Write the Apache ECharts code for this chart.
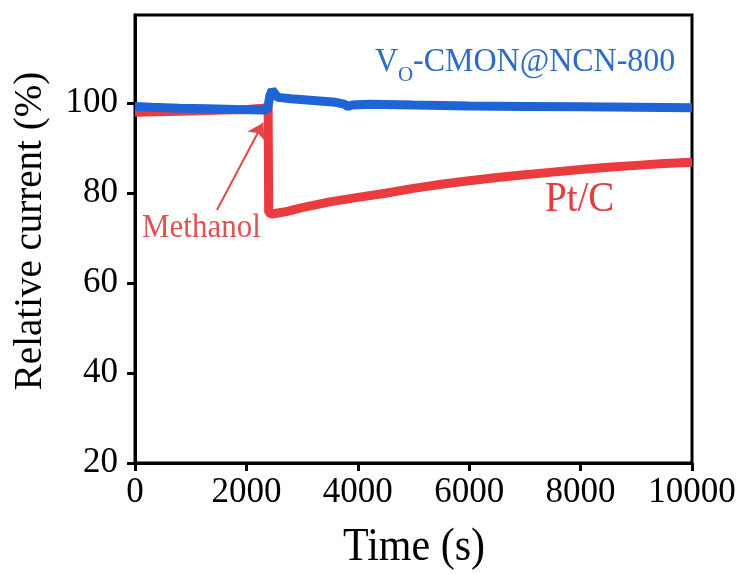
<!DOCTYPE html>
<html>
<head>
<meta charset="utf-8">
<script src="https://cdn.jsdelivr.net/npm/echarts@6/dist/echarts.min.js"></script>
<style>html,body{margin:0;padding:0;background:#fff}#c{width:745px;height:574px}</style>
</head>
<body>
<div id="c"></div>
<script>
// Time (s) and relative current (%)
var blueTime = [0, 300, 800, 1300, 1800, 2300, 2380, 2420, 2460, 2500, 2560, 2800, 3200, 3600, 3760, 3820, 3900, 4200, 5000, 6000, 7000, 8000, 9000, 10000];
var blueValue = [99.2, 99.0, 98.8, 98.7, 98.5, 98.4, 98.5, 101.5, 102.8, 102.2, 101.2, 100.9, 100.5, 100.1, 99.7, 99.2, 99.5, 99.7, 99.5, 99.3, 99.2, 99.1, 99.0, 98.9];
var redTime = [0, 400, 1000, 1600, 2000, 2300, 2390, 2400, 2460, 2700, 3000, 3500, 4000, 4500, 5000, 5500, 6000, 6500, 7000, 7500, 8000, 8500, 9000, 9500, 10000];
var redValue = [97.9, 98.0, 98.2, 98.4, 98.5, 98.8, 99.0, 75.6, 75.3, 75.8, 76.7, 78.0, 79.0, 79.9, 81.0, 81.9, 82.7, 83.4, 84.0, 84.6, 85.2, 85.7, 86.1, 86.5, 86.8];
var xTicks = [0, 2000, 4000, 6000, 8000, 10000];
var yTicks = [20, 40, 60, 80, 100];
var arrowFrom = [1472, 76.2];
var arrowTo = [2298, 95.5];

function pairs(xs, ys) { return xs.map(function (x, i) { return [x, ys[i]]; }); }

var FONT = '"Liberation Serif", "Times New Roman", serif';
var chart = echarts.init(document.getElementById('c'), null, { renderer: 'canvas' });
chart.setOption({
  animation: false,
  backgroundColor: '#fff',
  grid: { left: 135, right: 53, top: 15, bottom: 111, show: true, borderColor: '#000', borderWidth: 3, backgroundColor: 'transparent' },
  xAxis: {
    type: 'value', min: 0, max: 10000, interval: 2000,
    axisLine: { show: true, lineStyle: { color: '#000', width: 3 } },
    axisTick: { show: true, inside: false, length: 8, lineStyle: { color: '#000', width: 3 }, customValues: xTicks },
    axisLabel: { fontFamily: FONT, fontSize: 35, color: '#000', margin: 12, customValues: xTicks, formatter: function (v) { return String(v); } },
    splitLine: { show: false }
  },
  yAxis: {
    type: 'value', min: 20, max: 119.5,
    axisLine: { show: true, lineStyle: { color: '#000', width: 3 } },
    axisTick: { show: true, inside: false, length: 8, lineStyle: { color: '#000', width: 3 }, customValues: yTicks },
    axisLabel: { fontFamily: FONT, fontSize: 35, color: '#000', margin: 17, customValues: yTicks, formatter: function (v) { return String(v); } },
    splitLine: { show: false }
  },
  series: [
    {
      name: 'Pt/C', type: 'line', data: pairs(redTime, redValue), showSymbol: false,
      lineStyle: { color: '#ea3b3e', width: 9 }, z: 2,
      markLine: {
        silent: true, symbol: ['none', 'arrow'], symbolSize: 15,
        lineStyle: { color: '#e24848', width: 2, type: 'solid' },
        label: { show: false },
        data: [[{ coord: arrowFrom }, { coord: arrowTo }]]
      }
    },
    {
      name: 'VO-CMON@NCN-800', type: 'line', data: pairs(blueTime, blueValue), showSymbol: false,
      lineStyle: { color: '#1f64d6', width: 9 }, z: 3
    }
  ],
  graphic: [
    { type: 'text', x: 414, y: 548, scaleY: 1.08, style: { text: 'Time (s)', font: '42px ' + FONT, fill: '#000', align: 'center', verticalAlign: 'middle' } },
    { type: 'text', x: 31, y: 231, rotation: Math.PI / 2, style: { text: 'Relative current (%)', font: '39px ' + FONT, fill: '#000', align: 'center', verticalAlign: 'middle' } },
    { type: 'text', x: 375, y: 62, scaleY: 1.08, style: { text: 'V', font: '32px ' + FONT, fill: '#2c6cc8', align: 'left', verticalAlign: 'middle' } },
    { type: 'text', x: 398, y: 75, style: { text: 'O', font: '21px ' + FONT, fill: '#2c6cc8', align: 'left', verticalAlign: 'middle' } },
    { type: 'text', x: 413, y: 62, scaleY: 1.08, style: { text: '-CMON@NCN-800', font: '32px ' + FONT, fill: '#2c6cc8', align: 'left', verticalAlign: 'middle' } },
    { type: 'text', x: 545, y: 200, scaleY: 1.08, style: { text: 'Pt/C', font: '39px ' + FONT, fill: '#e43c3e', align: 'left', verticalAlign: 'middle' } },
    { type: 'text', x: 142, y: 228, scaleY: 1.08, style: { text: 'Methanol', font: '31px ' + FONT, fill: '#e05252', align: 'left', verticalAlign: 'middle' } }
  ]
});
</script>
</body>
</html>
